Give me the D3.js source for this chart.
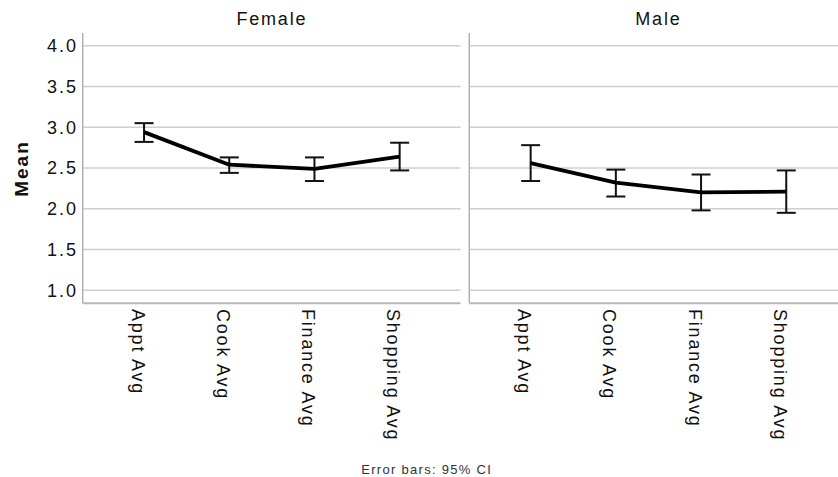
<!DOCTYPE html>
<html>
<head>
<meta charset="utf-8">
<script src="https://cdn.jsdelivr.net/npm/d3@7"></script>
<style>
  body { margin: 0; background: #fff; }
  svg { display: block; font-family: "Liberation Sans", Arial, sans-serif; }
</style>
</head>
<body>
<svg width="838" height="477"></svg>
<script>
// data
var categories = ['Appt Avg', 'Cook Avg', 'Finance Avg', 'Shopping Avg'];
var panels = ['Female', 'Male'];
var femaleMean = [2.94, 2.54, 2.49, 2.64];
var femaleLow  = [2.82, 2.44, 2.34, 2.47];
var femaleHigh = [3.05, 2.63, 2.63, 2.81];
var maleMean = [2.56, 2.32, 2.20, 2.21];
var maleLow  = [2.34, 2.15, 1.98, 1.95];
var maleHigh = [2.78, 2.48, 2.42, 2.47];
var yTicks = [1.0, 1.5, 2.0, 2.5, 3.0, 3.5, 4.0];

var series = [
    {mean: femaleMean, low: femaleLow, high: femaleHigh},
    {mean: maleMean, low: maleLow, high: maleHigh}
];

var svg = d3.select('svg');

var plotTop = 33, plotBottom = 303.3;
var panelW = 378.3;
var panelX = [82.7, 469.3];

var scaleY = d3.scaleLinear().domain([0.84, 4.156]).range([plotBottom, plotTop]);

// y axis label
svg.append('text')
    .attr('transform', 'translate(27.5,168.5) rotate(-90)')
    .attr('text-anchor', 'middle')
    .attr('font-size', 19)
    .attr('font-weight', 'bold')
    .attr('letter-spacing', '2px')
    .attr('fill', '#111')
    .text('Mean');

// y tick labels (left panel only)
svg.append('g')
    .selectAll('text')
    .data(yTicks)
    .enter()
    .append('text')
    .attr('x', 78)
    .attr('y', function(d){ return scaleY(d); })
    .attr('dy', '0.36em')
    .attr('text-anchor', 'end')
    .attr('font-size', 18)
    .attr('letter-spacing', '2px')
    .attr('fill', '#111')
    .text(function(d){ return d3.format('.1f')(d); });

panels.forEach(function(name, i) {

    var x0 = panelX[i];
    var g = svg.append('g');

    var scaleX = d3.scalePoint()
        .domain(categories)
        .range([x0, x0 + panelW])
        .padding(0.72);

    // grid lines
    g.selectAll('.grid')
        .data(yTicks)
        .enter()
        .append('line')
        .attr('x1', x0)
        .attr('x2', x0 + panelW - 0.5)
        .attr('y1', function(d){ return scaleY(d); })
        .attr('y2', function(d){ return scaleY(d); })
        .attr('stroke', '#cfcfcf')
        .attr('stroke-width', 1.5);

    // axis lines
    g.append('line')
        .attr('x1', x0).attr('x2', x0)
        .attr('y1', plotTop).attr('y2', plotBottom)
        .attr('stroke', '#b0b0b0')
        .attr('stroke-width', 1.5);
    g.append('line')
        .attr('x1', x0).attr('x2', x0 + panelW - 0.5)
        .attr('y1', plotBottom).attr('y2', plotBottom)
        .attr('stroke', '#b8b8b8')
        .attr('stroke-width', 2);

    // panel title
    g.append('text')
        .attr('x', x0 + panelW / 2)
        .attr('y', 24.5)
        .attr('text-anchor', 'middle')
        .attr('font-size', 18)
        .attr('letter-spacing', '1.8px')
        .attr('fill', '#111')
        .text(name);

    // category labels, rotated
    g.selectAll('.cat')
        .data(categories)
        .enter()
        .append('text')
        .attr('transform', function(d){
            return 'translate(' + (scaleX(d) + 0.5) + ',309) rotate(90)';
        })
        .attr('dy', '0.72em')
        .attr('font-size', 18)
        .attr('letter-spacing', '1.8px')
        .attr('fill', '#111')
        .text(function(d){ return d; });

    var s = series[i];
    var pts = categories.map(function(c, j){
        return {cat: c, mean: s.mean[j], low: s.low[j], high: s.high[j]};
    });

    // error bars
    var eb = g.selectAll('.eb')
        .data(pts)
        .enter()
        .append('g')
        .attr('stroke', '#111')
        .attr('stroke-width', 2);
    eb.append('line')
        .attr('x1', function(d){ return scaleX(d.cat); })
        .attr('x2', function(d){ return scaleX(d.cat); })
        .attr('y1', function(d){ return scaleY(d.low); })
        .attr('y2', function(d){ return scaleY(d.high); });
    eb.append('line')
        .attr('x1', function(d){ return scaleX(d.cat) - 9.5; })
        .attr('x2', function(d){ return scaleX(d.cat) + 9.5; })
        .attr('y1', function(d){ return scaleY(d.low); })
        .attr('y2', function(d){ return scaleY(d.low); });
    eb.append('line')
        .attr('x1', function(d){ return scaleX(d.cat) - 9.5; })
        .attr('x2', function(d){ return scaleX(d.cat) + 9.5; })
        .attr('y1', function(d){ return scaleY(d.high); })
        .attr('y2', function(d){ return scaleY(d.high); });

    // mean line
    var line = d3.line()
        .x(function(d){ return scaleX(d.cat); })
        .y(function(d){ return scaleY(d.mean); });
    g.append('path')
        .datum(pts)
        .attr('d', line)
        .attr('fill', 'none')
        .attr('stroke', '#000')
        .attr('stroke-width', 3.8)
        .attr('stroke-linejoin', 'round');
});

svg.append('text')
    .attr('x', 426.7)
    .attr('y', 474)
    .attr('text-anchor', 'middle')
    .attr('font-size', 13)
    .attr('letter-spacing', '1.3px')
    .attr('fill', '#333')
    .text('Error bars: 95% CI');
</script>
</body>
</html>
